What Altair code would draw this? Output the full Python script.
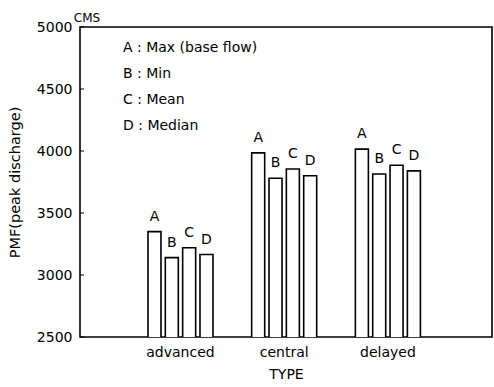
import altair as alt
import pandas as pd

types = ["advanced", "central", "delayed"]
stats = ["A", "B", "C", "D"]
advanced = [3350, 3140, 3220, 3165]
central = [3985, 3780, 3855, 3800]
delayed = [4015, 3815, 3885, 3840]
y_ticks = [2500, 3000, 3500, 4000, 4500, 5000]
legend_lines = ["A : Max (base flow)", "B : Min", "C : Mean", "D : Median"]
unit_label = ["CMS"]

rows = []
for t, vals in zip(types, [advanced, central, delayed]):
    for s, v in zip(stats, vals):
        rows.append({"type": t, "stat": s, "value": v})
df = pd.DataFrame(rows)

FONT = "DejaVu Sans"

x_enc = alt.X(
    "type:N",
    title="TYPE",
    sort=types,
    scale=alt.Scale(paddingInner=0.373, paddingOuter=0.673, align=0.487),
    axis=alt.Axis(
        labelAngle=0, domain=False, ticks=False, labelPadding=8,
        labelFontSize=14, labelColor="black",
        titleFontSize=14, titleFontWeight="normal", titleColor="black", titleY=30,
    ),
)
xo_enc = alt.XOffset("stat:N", sort=stats, scale=alt.Scale(paddingInner=0.25, paddingOuter=0))
y_enc = alt.Y(
    "value:Q",
    scale=alt.Scale(domain=[2500, 5000], nice=False, zero=False),
    axis=alt.Axis(
        values=y_ticks, format="d", grid=False, domain=False, ticks=False, labelPadding=8,
        labelFontSize=14, labelColor="black",
        title="PMF(peak discharge)", titleFontSize=14.5, titleFontWeight="normal",
        titleColor="black", titleX=-58, titleY=155,
    ),
)

base = alt.Chart(df)
bars = base.mark_bar(fill="white", stroke="black", strokeWidth=1.6, clip=True).encode(
    x=x_enc, xOffset=xo_enc, y=y_enc
)
labels = base.mark_text(baseline="bottom", dy=-8, fontSize=14, color="black").encode(
    x=alt.X("type:N", sort=types), xOffset=alt.XOffset("stat:N", sort=stats),
    y=alt.Y("value:Q"), text="stat:N"
)

ticks_df = pd.DataFrame({"v": y_ticks})
inner_ticks = alt.Chart(ticks_df).mark_rule(color="black", strokeWidth=1).encode(
    y=alt.Y("v:Q"), x=alt.value(0), x2=alt.value(4)
)

legend = alt.Chart(pd.DataFrame({"t": ["\n".join(legend_lines)]})).mark_text(
    align="left", baseline="top", lineBreak="\n", lineHeight=26, fontSize=14, color="black"
).encode(x=alt.value(43), y=alt.value(14), text="t:N")

cms = alt.Chart(pd.DataFrame({"t": unit_label})).mark_text(
    align="center", baseline="middle", fontSize=12, color="black"
).encode(x=alt.value(7), y=alt.value(-9), text="t:N")

chart = alt.layer(bars, labels, inner_ticks, legend, cms).properties(
    width=412, height=310,
    autosize=alt.AutoSizeParams(type="none"),
    padding={"left": 80, "top": 27, "right": 2, "bottom": 50},
).configure(font=FONT).configure_view(stroke="black", strokeWidth=1.6)

chart.save("out.html", embed_options={"renderer": "svg", "actions": False})
